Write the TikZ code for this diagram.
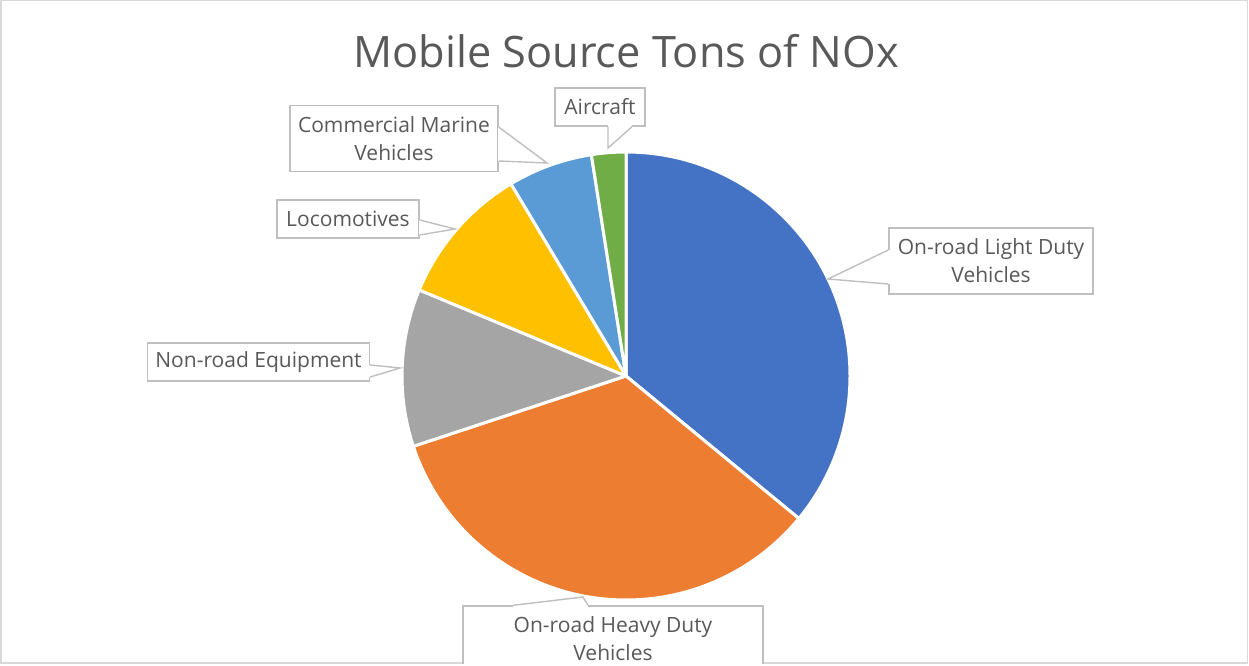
\documentclass[tikz,border=0pt]{standalone}
\usepackage{fontspec}
\setmainfont{Open Sans}
\usepackage{tikz}
\usetikzlibrary{calc}

\definecolor{txtgray}{HTML}{595959}
\definecolor{boxgray}{HTML}{BFBFBF}
\definecolor{framegray}{HTML}{D9D9D9}
\definecolor{pieblue}{HTML}{4472C4}
\definecolor{pieorange}{HTML}{ED7D31}
\definecolor{piegray}{HTML}{A5A5A5}
\definecolor{pieyellow}{HTML}{FFC000}
\definecolor{pielight}{HTML}{5B9BD5}
\definecolor{piegreen}{HTML}{70AD47}

\begin{document}
\begin{tikzpicture}[
    x=1pt, y=1pt,
    slice/.style={draw=white, line width=3pt, line join=round},
    lbl/.style={draw=boxgray, line width=1.4pt, fill=white, text=txtgray, align=center, inner sep=0pt,
                font=\fontsize{21}{28}\selectfont},
    gap/.style={white, line width=2.4pt},
    ptr/.style={boxgray, line width=1.4pt, line join=miter}
]
\useasboundingbox (0,0) rectangle (1249,665);
\draw[framegray, line width=1.5pt] (0.75,2) rectangle (1247.5,664.25);

\node[text=txtgray, font=\fontsize{43.3}{50}\selectfont, anchor=base] (title) at (626,597) {Mobile Source Tons of NOx};

% pie
\coordinate (c) at (626,289);
\fill[pieblue, slice] (c) -- ++(90:224) arc[start angle=90, end angle=-39.5, radius=224] -- cycle;
\fill[pieorange, slice] (c) -- ++(-39.5:224) arc[start angle=-39.5, end angle=-161.7, radius=224] -- cycle;
\fill[piegray, slice] (c) -- ++(198.3:224) arc[start angle=198.3, end angle=157.4, radius=224] -- cycle;
\fill[pieyellow, slice] (c) -- ++(157.4:224) arc[start angle=157.4, end angle=120.9, radius=224] -- cycle;
\fill[pielight, slice] (c) -- ++(120.9:224) arc[start angle=120.9, end angle=98.9, radius=224] -- cycle;
\fill[piegreen, slice] (c) -- ++(98.9:224) arc[start angle=98.9, end angle=90, radius=224] -- cycle;

% labels
\begin{scope}
\clip (0,2) rectangle (1249,665);
\node[lbl, minimum width=90, minimum height=38] (air) at (600,558) {Aircraft};
\node[lbl, minimum width=208, minimum height=66] (cmv) at (394,526.5) {Commercial Marine\\Vehicles};
\node[lbl, minimum width=142, minimum height=38] (loco) at (348,446) {Locomotives};
\node[lbl, minimum width=204, minimum height=66] (ldv) at (991,404) {On-road Light Duty\\Vehicles};
\node[lbl, minimum width=222, minimum height=38] (nre) at (258.5,303) {Non-road Equipment};
\node[lbl, minimum width=300, minimum height=66] (hdv) at (613,26) {On-road Heavy Duty\\Vehicles};
\end{scope}

\coordinate (airTip) at (608,517);
\coordinate (cmvTip) at (547,502);
\coordinate (locoTip) at (455,436);
\coordinate (ldvTip) at (828,386);
\coordinate (nreTip) at (400,297);
\coordinate (hdvTip) at (583,68);

% pointers
\draw[gap] ([xshift=8pt]air.south) -- ([xshift=32pt]air.south);
\draw[ptr] ([xshift=8pt]air.south) -- (airTip) -- ([xshift=32pt]air.south);
\draw[gap] ([yshift=11.5pt]cmv.east) -- ([yshift=-22.5pt]cmv.east);
\draw[ptr] ([yshift=11.5pt]cmv.east) -- (cmvTip) -- ([yshift=-22.5pt]cmv.east);
\draw[gap] ([yshift=-1pt]loco.east) -- ([yshift=-16pt]loco.east);
\draw[ptr] ([yshift=-1pt]loco.east) -- (locoTip) -- ([yshift=-16pt]loco.east);
\draw[gap] ([yshift=11pt]ldv.west) -- ([yshift=-23pt]ldv.west);
\draw[ptr] ([yshift=11pt]ldv.west) -- (ldvTip) -- ([yshift=-23pt]ldv.west);
\draw[gap] ([yshift=-3pt]nre.east) -- ([yshift=-15pt]nre.east);
\draw[ptr] ([yshift=-3pt]nre.east) -- (nreTip) -- ([yshift=-15pt]nre.east);
\draw[gap] ([xshift=-100pt]hdv.north) -- ([xshift=-25pt]hdv.north);
\draw[ptr] ([xshift=-100pt]hdv.north) -- (hdvTip) -- ([xshift=-25pt]hdv.north);
\end{tikzpicture}
\end{document}
